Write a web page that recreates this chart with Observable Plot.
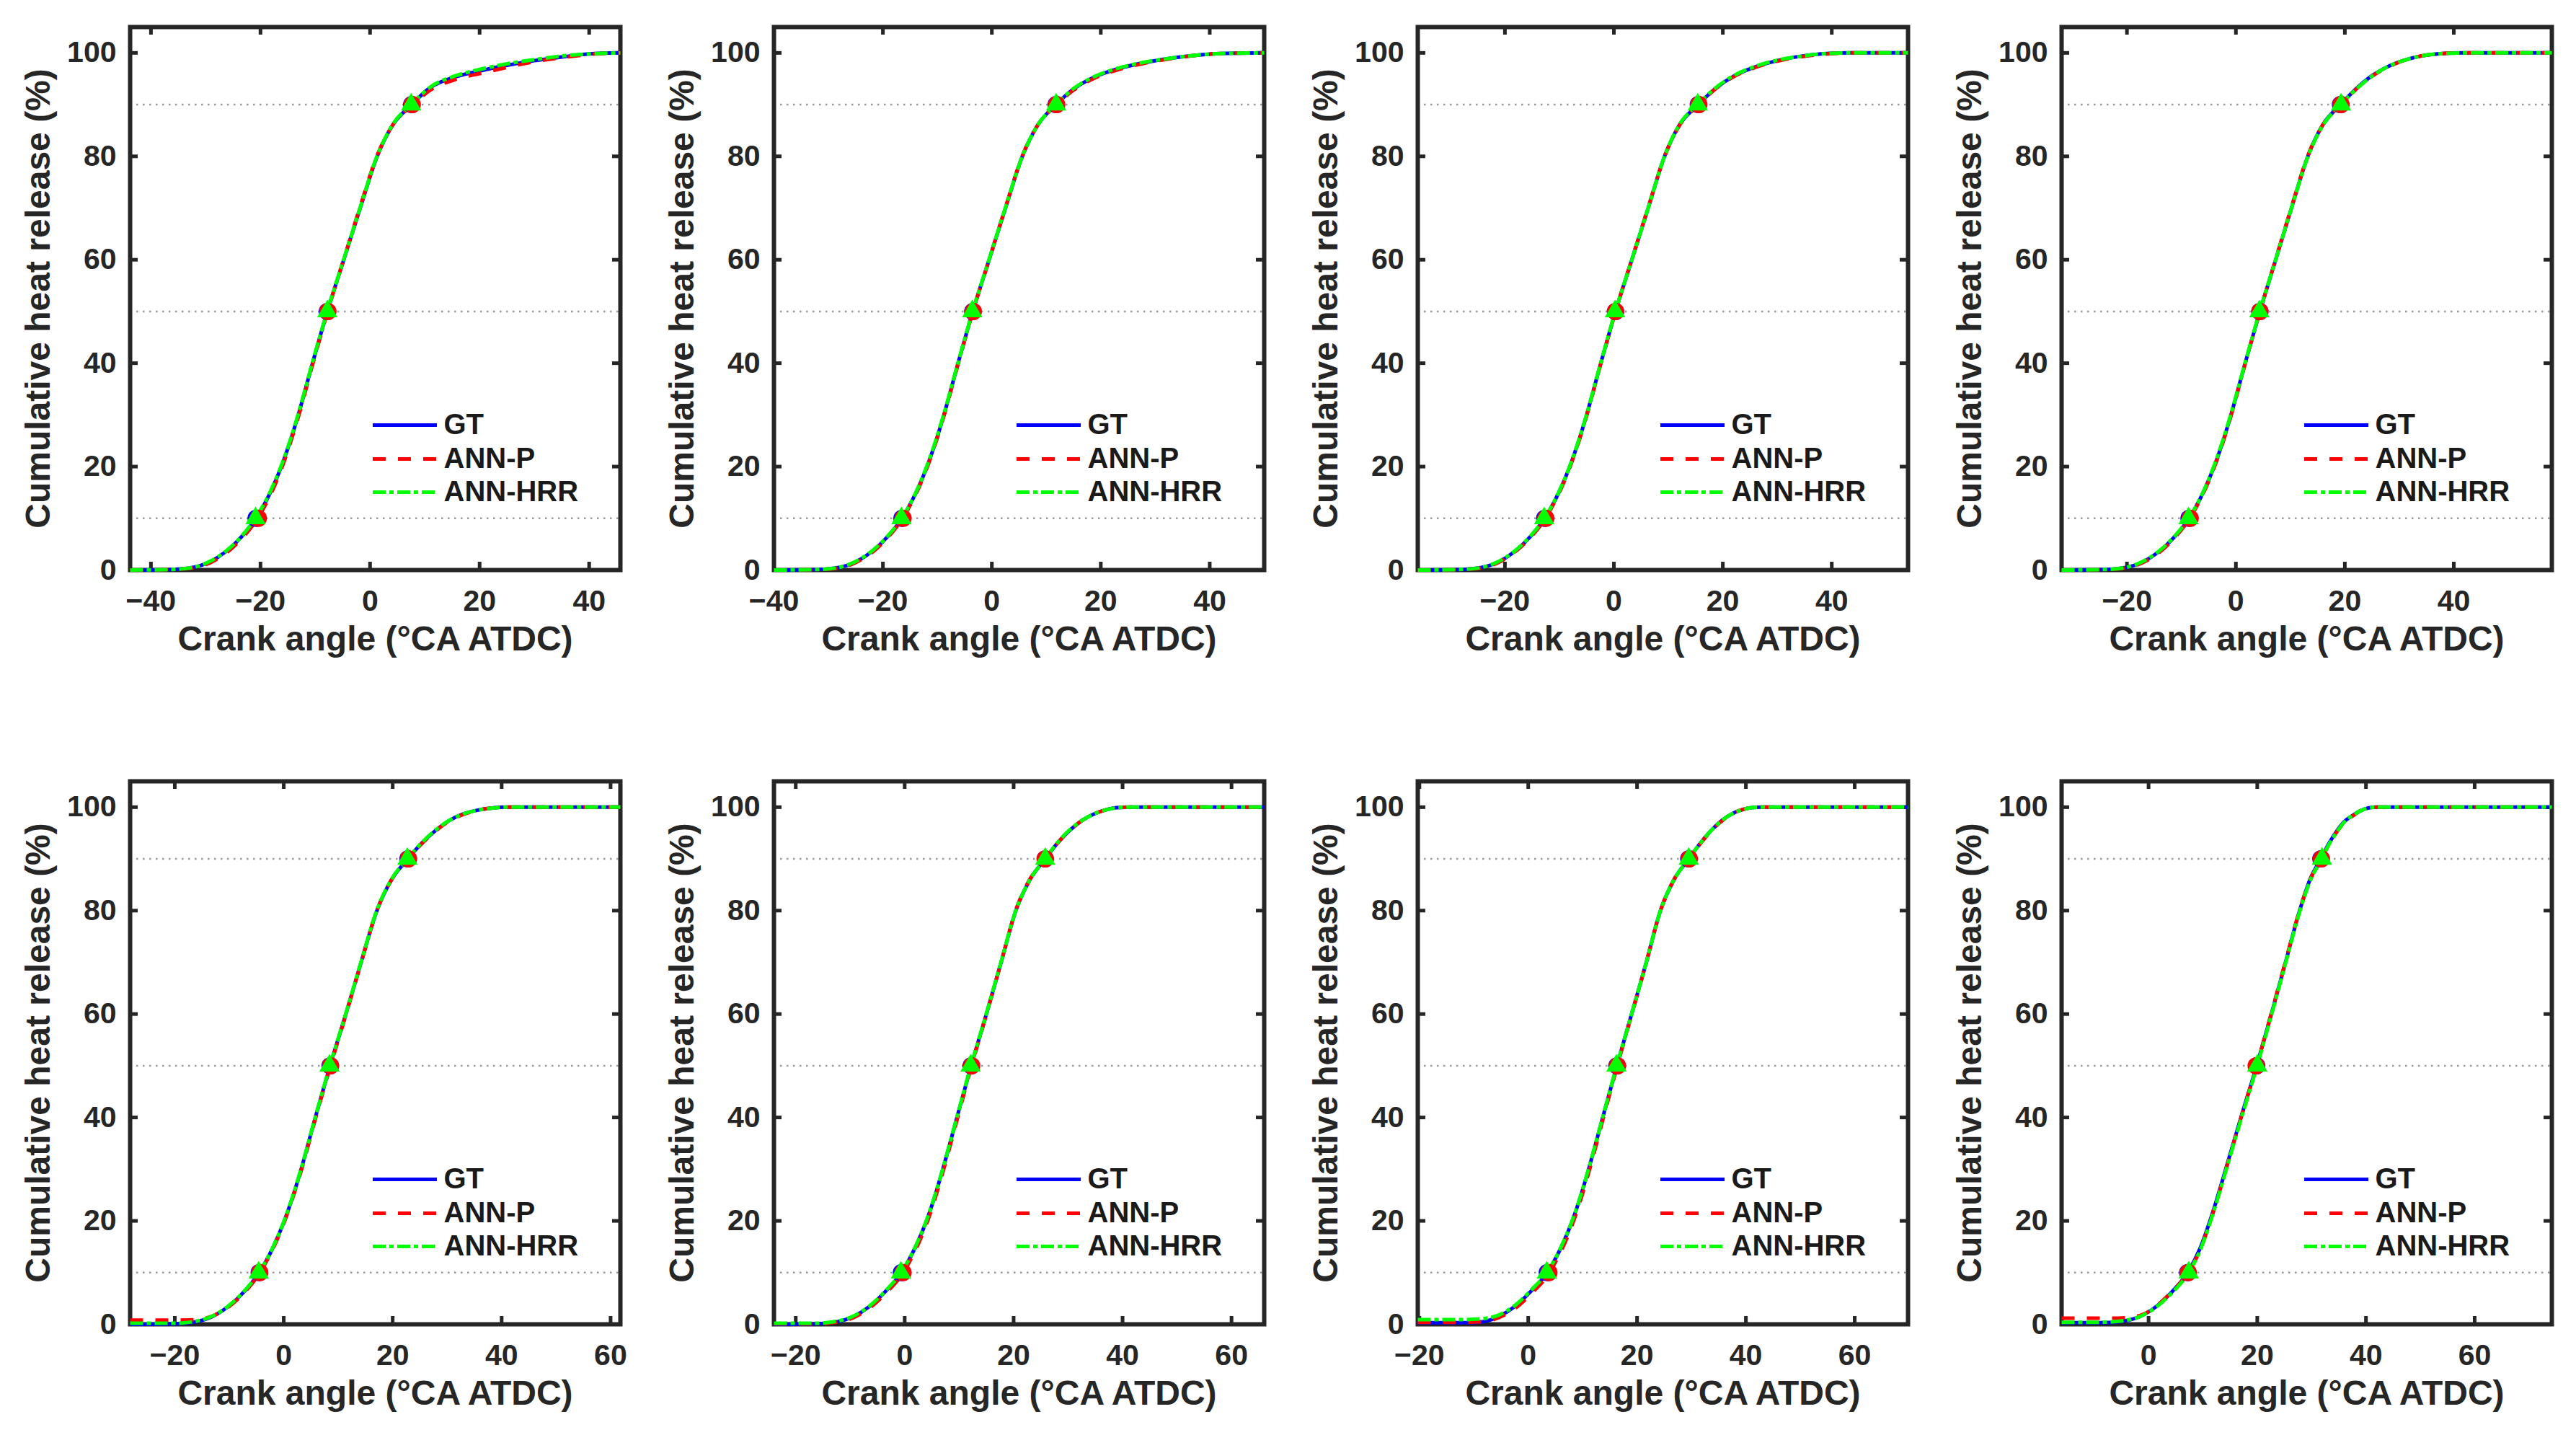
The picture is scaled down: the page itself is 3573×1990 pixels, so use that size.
<!DOCTYPE html>
<html><head><meta charset="utf-8">
<script src="https://cdn.jsdelivr.net/npm/d3@7"></script>
<script src="https://cdn.jsdelivr.net/npm/@observablehq/plot@0.6"></script>
<style>
html,body{margin:0;padding:0;background:#fff;}
#fig{position:relative;width:3573px;height:1990px;background:#fff;}
#fig svg{position:absolute;}
</style></head><body><div id="fig"></div>
<script>
// ---------- data ----------
const seriesNames = ["GT", "ANN-P", "ANN-HRR"];
const refLevels = [10, 50, 90];
const yTicks = [0, 20, 40, 60, 80, 100];
const xLabel = "Crank angle (°CA ATDC)";
const yLabel = "Cumulative heat release (%)";

const xDomains = [[-43.8, 45.7], [-40, 50], [-36, 54], [-32, 58], [-28.2, 61.8], [-24, 66], [-20.3, 69.8], [-16, 74.2]];
const xTickSets = [[-40, -20, 0, 20, 40], [-40, -20, 0, 20, 40], [-20, 0, 20, 40], [-20, 0, 20, 40],
                   [-20, 0, 20, 40, 60], [-20, 0, 20, 40, 60], [-20, 0, 20, 40, 60], [0, 20, 40, 60]];

const ca1 = [-43.8,-36.4,-32.4,-29.4,-26.4,-23.4,-20.8,-18.2,-16.2,-14.55,-13.1,-10.5,-7.8,-4.8,-1.8,1.3,4.1,7.6,11,16,20,25,30,35,40,45.7];
const gt1 = [0,0.1,0.5,1.5,3.5,6.5,10,15,20,25,30,40,50,60,70,80,86,90,93.3,95.5,96.5,97.6,98.5,99.2,99.8,100];
const annP1 = [0,0.1,0.4,1.3,3.2,6.1,9.6,14.5,19.5,24.6,29.6,39.7,49.8,60.1,70.3,80.2,86,89.8,92.8,95,96,97.2,98.3,99.1,99.7,100];
const annHrr1 = [0,0.1,0.5,1.6,3.6,6.6,10.2,15.2,20.2,25.2,30.2,40.2,50.1,60.1,70.1,80.1,86.1,90.1,93.4,95.7,96.8,97.9,98.7,99.4,99.8,100];

const ca2 = [-40,-32.1,-28.1,-25.1,-22.1,-19.1,-16.5,-13.9,-11.9,-10.25,-8.8,-6.2,-3.5,-0.5,2.5,5.6,8.4,11.8,15,19,23,28,33,38,43,50];
const gt2 = [0,0.1,0.5,1.5,3.5,6.5,10,15,20,25,30,40,50,60,70,80,86,90,93,95.4,96.9,98.1,99,99.6,99.9,100];
const annP2 = [0,0.1,0.4,1.4,3.3,6.3,9.8,14.8,19.8,24.8,29.8,39.8,49.9,60,70.1,80.1,86,89.9,92.8,95.2,96.7,98,98.9,99.6,99.9,100];
const annHrr2 = [0,0.1,0.5,1.6,3.6,6.6,10.1,15.1,20.2,25.2,30.2,40.1,50.1,60.1,70.1,80,86,90,93.1,95.5,97,98.2,99,99.6,99.9,100];

const ca3 = [-36,-28.3,-24.3,-21.3,-18.3,-15.3,-12.7,-10.1,-8.1,-6.45,-5,-2.4,0.3,3.3,6.3,9.3,12,15.5,18.5,22,26,30,34,38,43,54];
const gt3 = [0,0.1,0.5,1.5,3.5,6.5,10,15,20,25,30,40,50,60,70,80,86,90,93,95.5,97.3,98.5,99.3,99.8,100,100];
const annP3 = [0,0.1,0.4,1.4,3.4,6.3,9.8,14.8,19.8,24.8,29.8,39.9,50,60.1,70.1,80,85.9,89.9,92.9,95.4,97.2,98.4,99.2,99.7,100,100];
const annHrr3 = [0,0.1,0.5,1.6,3.6,6.6,10.1,15.1,20.1,25.1,30.1,40.1,50.1,60,70,80,86.1,90.1,93.1,95.6,97.4,98.6,99.3,99.8,100,100];

const ca4 = [-32,-24.2,-20.2,-17.2,-14.2,-11.2,-8.6,-6,-4,-2.35,-0.9,1.7,4.4,7.3,10.2,13.2,15.9,19.2,22,25,28,31,34,37,42,58];
const gt4 = [0,0.1,0.5,1.5,3.5,6.5,10,15,20,25,30,40,50,60,70,80,86,90,93,95.6,97.4,98.6,99.4,99.8,100,100];
const annP4 = [0,0.1,0.4,1.4,3.3,6.3,9.8,14.8,19.8,24.8,29.8,39.9,50,60.1,70.2,80.1,86,89.9,92.9,95.5,97.3,98.6,99.4,99.8,100,100];
const annHrr4 = [0,0.1,0.5,1.6,3.6,6.6,10.1,15.1,20.2,25.2,30.2,40.1,50.1,60,70,79.9,85.9,89.9,92.9,95.5,97.4,98.6,99.4,99.8,100,100];

const ca5 = [-28.2,-20.1,-16.1,-13.1,-10.1,-7.1,-4.5,-1.9,0.1,1.75,3.2,5.8,8.5,11.4,14.2,17.1,19.8,22.8,25.3,28,30.5,33,35.5,38,41,61.8];
const gt5 = [0,0.1,0.5,1.5,3.5,6.5,10,15,20,25,30,40,50,60,70,80,86,90,93,95.6,97.5,98.7,99.4,99.8,100,100];
const annP5 = [0.8,0.8,0.9,1.6,3.4,6.3,9.8,14.8,19.8,24.8,29.7,39.7,49.7,59.8,69.9,80,86,89.9,92.9,95.5,97.4,98.6,99.4,99.8,100,100];
const annHrr5 = [0.2,0.2,0.6,1.6,3.6,6.6,10.1,15.1,20.1,25.1,30.1,40.1,50.1,60.1,70.1,80.1,86.1,90.1,93.1,95.7,97.5,98.7,99.4,99.8,100,100];

const ca6 = [-24,-16.4,-12.4,-9.4,-6.4,-3.4,-0.6,2,4,5.6,7,9.6,12.2,15,17.7,20.4,23,25.8,28,30.5,32.8,35,37,39,41.5,66];
const gt6 = [0,0.1,0.5,1.5,3.5,6.5,10,15,20,25,30,40,50,60,70,80,86,90,93,95.7,97.6,98.8,99.5,99.9,100,100];
const annP6 = [0.1,0.1,0.4,1.3,3.2,6.1,9.5,14.4,19.4,24.4,29.4,39.5,49.7,59.9,70,80.1,86.1,90,93,95.7,97.6,98.8,99.5,99.9,100,100];
const annHrr6 = [0.2,0.2,0.6,1.6,3.6,6.6,10.1,15.1,20.1,25.1,30.1,40.1,50.1,60.1,70.1,80,86,90,93.1,95.8,97.6,98.8,99.5,99.9,100,100];

const ca7 = [-20.3,-12.5,-8.4,-5.4,-2.4,0.6,3.5,6.1,8.1,9.7,11.1,13.7,16.3,19,21.7,24.3,26.8,29.5,31.6,33.8,35.8,37.6,39.3,41,43,69.8];
const gt7 = [0.3,0.3,0.5,1.5,3.5,6.5,10,15,20,25,30,40,50,60,70,80,86,90,93,95.7,97.6,98.8,99.5,99.9,100,100];
const annP7 = [0.4,0.4,0.5,1.3,3.1,6,9.4,14.3,19.3,24.3,29.3,39.5,49.7,59.8,70,80,86,89.9,92.9,95.6,97.5,98.8,99.5,99.9,100,100];
const annHrr7 = [0.9,0.9,1.1,1.8,3.7,6.7,10.1,15.1,20.1,25.1,30.1,40.1,50.1,60,70,80,86,90,93,95.7,97.6,98.8,99.5,99.9,100,100];

const ca8 = [-16,-9,-5.5,-1.6,1.5,4.5,7.2,9.6,11.3,12.8,14.2,17,19.9,22.6,25.2,27.8,29.7,31.7,33.2,34.7,36,37.7,39,40.3,42,74.2];
const gt8 = [0.3,0.3,0.5,1.5,3.5,6.5,10,15,20,25,30,40,50,60,70,80,86,90,93,95.5,97.2,98.5,99.3,99.8,100,100];
const annP8 = [1.2,1.2,1.2,1.7,3.6,6.6,9.8,14.7,19.7,24.7,29.8,39.9,50.1,60.2,70.2,80.1,85.9,89.8,92.8,95.3,97,98.4,99.3,99.8,100,100];
const annHrr8 = [0.4,0.4,0.6,1.5,3.4,6.3,9.7,14.6,19.6,24.6,29.6,39.6,49.7,59.8,69.8,79.8,85.7,89.7,92.8,95.3,97.1,98.5,99.3,99.8,100,100];

// crank angles of CA10 / CA50 / CA90 markers
const mkGT = [[-20.8,-7.8,7.6],[-16.5,-3.5,11.8],[-12.7,0.3,15.5],[-8.6,4.4,19.2],[-4.5,8.5,22.8],[-0.6,12.2,25.8],[3.5,16.3,29.5],[7.2,19.9,31.7]];
const mkP = [[-20.4,-7.7,7.7],[-16.3,-3.4,11.9],[-12.5,0.3,15.6],[-8.4,4.4,19.3],[-4.4,8.6,22.9],[-0.3,12.3,25.8],[3.8,16.4,29.6],[7.3,19.8,31.8]];
const mkHRR = [[-20.9,-7.8,7.5],[-16.6,-3.6,11.8],[-12.8,0.2,15.4],[-8.7,4.3,19.3],[-4.6,8.4,22.7],[-0.7,12.1,25.8],[3.4,16.2,29.5],[7.4,20,31.9]];

const caAll = [ca1, ca2, ca3, ca4, ca5, ca6, ca7, ca8];
const gtAll = [gt1, gt2, gt3, gt4, gt5, gt6, gt7, gt8];
const annPAll = [annP1, annP2, annP3, annP4, annP5, annP6, annP7, annP8];
const annHrrAll = [annHrr1, annHrr2, annHrr3, annHrr4, annHrr5, annHrr6, annHrr7, annHrr8];

// ---------- layout / style ----------
const W = 893, H = 944, ML = 180, MR = 33, MT = 37, MB = 154;
const PW = W - ML - MR, PH = H - MT - MB;
const ROW_TOP = [0, 1046];
const FONT = "'Liberation Sans', Arial, Helvetica, sans-serif";
const INK = "#262626";
const colors = ["#0000ff", "#ff0000", "#00ff00"];
const dashes = [null, "18,17", "18,5,6,5"];
const LW = 5;
const YMAX = 105;
const legendRowPx = [552, 599, 645];
const fmt = d => d < 0 ? "\u2212" + Math.abs(d) : String(d);

const fig = document.getElementById("fig");

for (let i = 0; i < 8; i++) {
  const dom = xDomains[i];
  const span = dom[1] - dom[0];
  const fx = px => dom[0] + (px / PW) * span;
  const fy = px => YMAX * (1 - px / PH);
  const ca = caAll[i];
  const rows = ys => ca.map((x, j) => ({x, y: ys[j]}));
  const mk = xs => xs.map((x, k) => ({x, y: refLevels[k]}));
  const seriesY = [gtAll[i], annPAll[i], annHrrAll[i]];

  const lineMarks = seriesY.map((ys, k) => Plot.line(rows(ys), {
    x: "x", y: "y", stroke: colors[k], strokeWidth: LW, curve: "monotone-x",
    strokeLinecap: "butt", strokeLinejoin: "round",
    ...(dashes[k] ? {strokeDasharray: dashes[k]} : {})
  }));

  const legendMarks = seriesNames.flatMap((name, k) => [
    Plot.ruleY([fy(legendRowPx[k])], {
      y: d => d, x1: () => fx(337), x2: () => fx(426),
      stroke: colors[k], strokeWidth: LW, strokeLinecap: "butt",
      ...(dashes[k] ? {strokeDasharray: dashes[k]} : {})
    }),
    Plot.text([name], {
      x: () => fx(435), y: () => fy(legendRowPx[k]), text: d => d,
      textAnchor: "start", lineAnchor: "middle", fontSize: 40, fontWeight: "bold", fill: "#1a1a1a"
    })
  ]);

  const chart = Plot.plot({
    width: W, height: H,
    marginLeft: ML, marginRight: MR, marginTop: MT, marginBottom: MB,
    x: {domain: dom, axis: null},
    y: {domain: [0, YMAX], axis: null},
    style: {fontFamily: FONT, fontWeight: "bold", color: INK, background: "white", overflow: "visible"},
    marks: [
      Plot.ruleY(refLevels, {stroke: "#9a9a9a", strokeWidth: 2.5, strokeDasharray: "2.5,6.5"}),
      Plot.frame({stroke: INK, strokeWidth: 6}),
      Plot.ruleX(xTickSets[i], {x: d => d, stroke: INK, strokeWidth: 5, insetTop: PH - 11}),
      Plot.ruleX(xTickSets[i], {x: d => d, stroke: INK, strokeWidth: 5, insetBottom: PH - 11}),
      Plot.ruleY(yTicks, {y: d => d, stroke: INK, strokeWidth: 5, insetRight: PW - 11}),
      Plot.ruleY(yTicks, {y: d => d, stroke: INK, strokeWidth: 5, insetLeft: PW - 11}),
      Plot.text(xTickSets[i], {x: d => d, frameAnchor: "bottom", dy: 43, text: fmt,
        fontSize: 41, fontWeight: "bold", fill: INK, lineAnchor: "middle", textAnchor: "middle"}),
      Plot.text(yTicks, {y: d => d, frameAnchor: "left", dx: -19, text: d => String(d),
        textAnchor: "end", lineAnchor: "middle", fontSize: 41, fontWeight: "bold", fill: INK}),
      Plot.text([xLabel], {frameAnchor: "bottom", dy: 96, text: d => d, textAnchor: "middle",
        fontSize: 48, fontWeight: "bold", fill: INK, lineAnchor: "middle"}),
      Plot.text([yLabel], {frameAnchor: "left", dx: -127, rotate: -90, text: d => d, textAnchor: "middle",
        fontSize: 48, fontWeight: "bold", fill: INK, lineAnchor: "middle"}),
      ...lineMarks,
      Plot.dot(mk(mkGT[i]), {x: "x", y: "y", r: 12, fill: colors[0], stroke: "none"}),
      Plot.dot(mk(mkP[i]), {x: "x", y: "y", r: 12, fill: colors[1], stroke: "none"}),
      Plot.dot(mk(mkHRR[i]), {x: "x", y: "y", r: 10.5, symbol: "triangle", fill: colors[2], stroke: "none"}),
      ...legendMarks
    ]
  });
  chart.style.left = (i % 4) * W + "px";
  chart.style.top = ROW_TOP[Math.floor(i / 4)] + "px";
  fig.appendChild(chart);
}
</script>
</body></html>
